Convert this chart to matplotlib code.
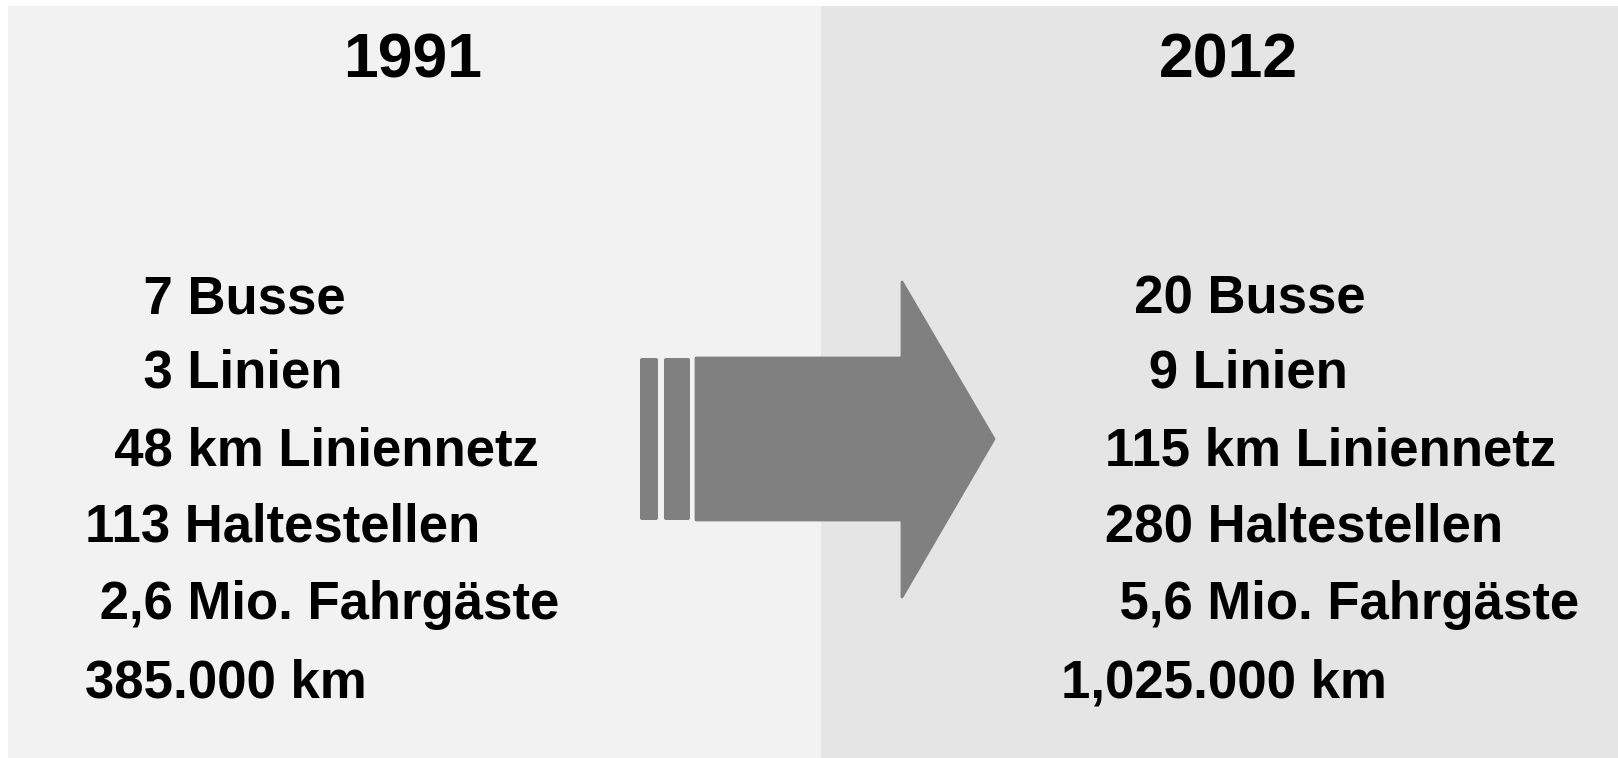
import matplotlib
matplotlib.use('Agg')
import matplotlib.pyplot as plt
from matplotlib.patches import Rectangle, FancyBboxPatch, Polygon

# chart content
years = ['1991', '2012']
units = ['Busse', 'Linien', 'km Liniennetz', 'Haltestellen', 'Mio. Fahrgäste', 'km']
values_1991 = ['7', '3', '48', '113', '2,6', '385.000']
values_2012 = ['20', '9', '115', '280', '5,6', '1,025.000']

# layout (pixel coordinates, y going down)
W, H = 1618, 758
indent_1991 = [4, 4, 2, 0, 1, 0]
indent_2012 = [5, 6, 3, 3, 4, 0]
baselines = [313, 388, 465, 542, 619, 697]

fig = plt.figure(figsize=(W / 100, H / 100), dpi=100)
fig.patch.set_facecolor('white')
ax = fig.add_axes([0, 0, 1, 1])
ax.set_xlim(0, W)
ax.set_ylim(H, 0)
ax.axis('off')

# two background panels
ax.add_patch(Rectangle((8, 6), 821 - 8, H - 6, facecolor='#f2f2f2', edgecolor='none'))
ax.add_patch(Rectangle((821, 6), W - 821, H - 6, facecolor='#e5e5e5', edgecolor='none'))

font = 'Liberation Sans'

# year headings
ax.text(413, 78, years[0], fontsize=45, fontweight='bold', family=font,
        ha='center', va='baseline', color='black')
ax.text(1228, 78, years[1], fontsize=45, fontweight='bold', family=font,
        ha='center', va='baseline', color='black')

# stat lines
for val, unit, ind, y in zip(values_1991, units, indent_1991, baselines):
    ax.text(85, y, ' ' * ind + val + ' ' + unit, fontsize=38, fontweight='bold',
            family=font, ha='left', va='baseline', color='black')

for val, unit, ind, y in zip(values_2012, units, indent_2012, baselines):
    ax.text(1061, y, ' ' * ind + val + ' ' + unit, fontsize=38, fontweight='bold',
            family=font, ha='left', va='baseline', color='black')

# the grey arrow with two stripes at the tail
grey = '#808080'
top, bot = 358, 520
for x0, x1 in [(640, 658), (664, 690)]:
    ax.add_patch(FancyBboxPatch((x0 + 2, top + 2), x1 - x0 - 4, bot - top - 4,
                                boxstyle='round,pad=2', facecolor=grey, edgecolor='none'))
arrow = [(696, top), (902, top), (902, 282), (994, 439), (902, 597), (902, bot), (696, bot)]
ax.add_patch(Polygon(arrow, closed=True, facecolor=grey, edgecolor=grey,
                     linewidth=2, joinstyle='round'))

fig.savefig('out.png', dpi=100, facecolor=fig.get_facecolor())
